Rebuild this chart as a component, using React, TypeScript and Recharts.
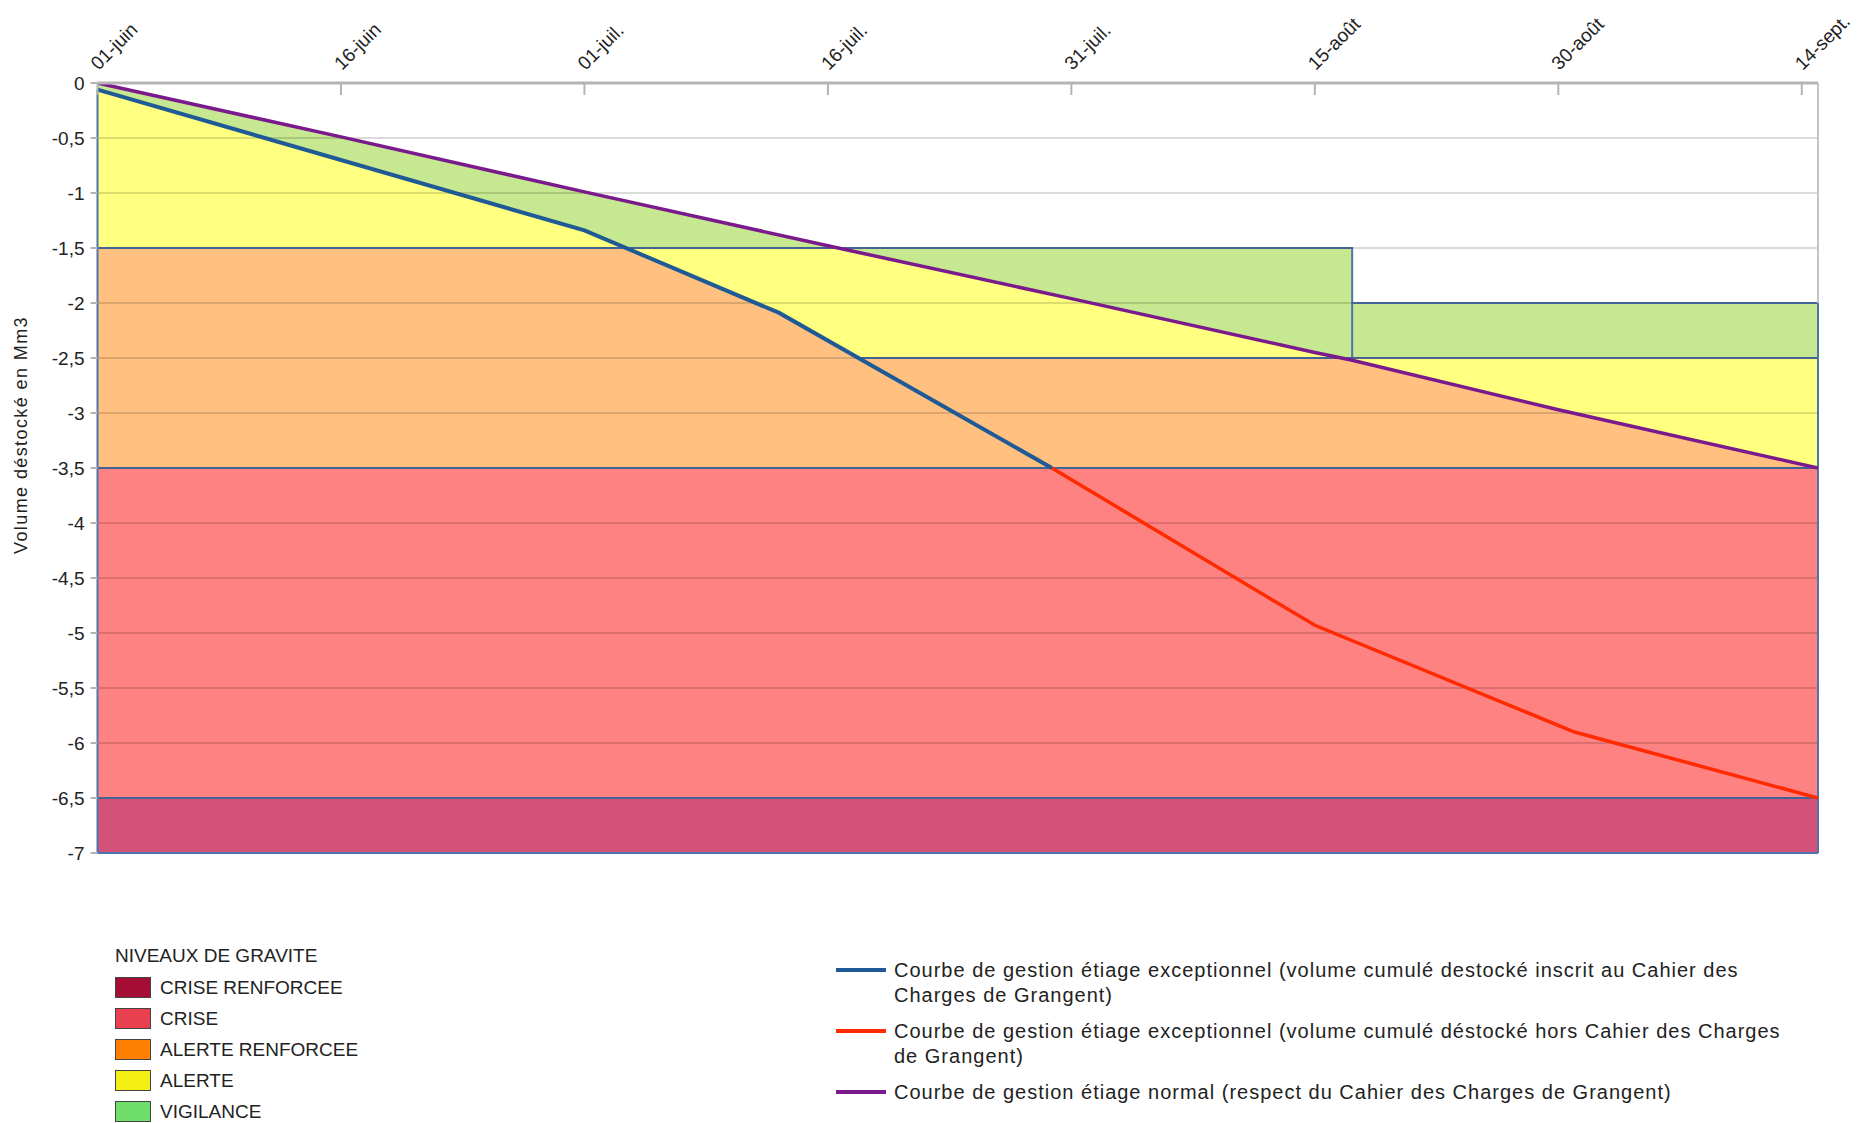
import React from 'react';
import { ComposedChart, Area, Line, XAxis, YAxis, ReferenceLine, Legend } from 'recharts';

// day 0 = 1er juin
const xTicks = [0, 15, 30, 45, 60, 75, 90, 105];
const xTickLabels = ['01-juin', '16-juin', '01-juil.', '16-juil.', '31-juil.', '15-août', '30-août', '14-sept.'];
const yTicks = [0, -0.5, -1, -1.5, -2, -2.5, -3, -3.5, -4, -4.5, -5, -5.5, -6, -6.5, -7];

// courbes
const normalCurve = [
  { day: 0, v: 0 }, { day: 15, v: -0.49 }, { day: 30, v: -0.99 }, { day: 45, v: -1.48 },
  { day: 60, v: -1.96 }, { day: 75, v: -2.45 }, { day: 77.3, v: -2.52 }, { day: 90, v: -2.97 }, { day: 106, v: -3.5 },
];
const exceptionalCurve = [
  { day: 0, v: -0.06 }, { day: 30, v: -1.34 }, { day: 42, v: -2.09 }, { day: 58.8, v: -3.5 },
];
const outsideCurve = [
  { day: 58.8, v: -3.5 }, { day: 75, v: -4.93 }, { day: 91, v: -5.9 }, { day: 106, v: -6.5 },
];

// haut de chaque zone de gravité (remplies jusqu'à -7, de l'arrière vers l'avant)
const vigilanceTop = [
  { day: 0, v: 0 }, { day: 15, v: -0.49 }, { day: 30, v: -0.99 }, { day: 45.6, v: -1.5 },
  { day: 77.3, v: -1.5 }, { day: 77.3, v: -2.5 }, { day: 77.3, v: -2.0 }, { day: 106, v: -2.0 },
];
const alerteTop = [
  { day: 0, v: -0.06 }, { day: 30, v: -1.34 }, { day: 32.6, v: -1.5 }, { day: 45.6, v: -1.5 },
  { day: 60, v: -1.96 }, { day: 75, v: -2.45 }, { day: 77.3, v: -2.52 }, { day: 77.3, v: -2.5 }, { day: 106, v: -2.5 },
];
const alerteRenforceeTop = [
  { day: 0, v: -1.5 }, { day: 32.6, v: -1.5 }, { day: 42, v: -2.09 }, { day: 46.9, v: -2.5 },
  { day: 77.3, v: -2.5 }, { day: 77.3, v: -2.52 }, { day: 90, v: -2.97 }, { day: 106, v: -3.5 },
];
const criseTop = [{ day: 0, v: -3.5 }, { day: 106, v: -3.5 }];
const criseRenforceeTop = [{ day: 0, v: -6.5 }, { day: 106, v: -6.5 }];

const gravityLevels = ['CRISE RENFORCEE', 'CRISE', 'ALERTE RENFORCEE', 'ALERTE', 'VIGILANCE'];
const gravityColors = ['#A50D35', '#E8404F', '#FF8000', '#F5EE14', '#6FDE6A'];

const curveNames = [
  'Courbe de gestion étiage exceptionnel (volume cumulé destocké inscrit au Cahier des Charges de Grangent)',
  'Courbe de gestion étiage exceptionnel (volume cumulé déstocké hors Cahier des Charges de Grangent)',
  'Courbe de gestion étiage normal (respect du Cahier des Charges de Grangent)',
];
const curveColors = ['#1F5A96', '#FF2A00', '#7B1A8C'];

const font = '"Liberation Sans", Arial, sans-serif';
const bandStroke = '#4F74AD';

const TopTick = (props: any) => {
  const { x, y, payload } = props;
  const label = xTickLabels[xTicks.indexOf(payload.value)];
  const tx = x + 1;
  const ty = y - 12;
  return (
    <g>
      <line x1={x} y1={y} x2={x} y2={y + 12} stroke="#b4b4b4" strokeWidth={2} />
      <text x={tx} y={ty} transform={`rotate(-45 ${tx} ${ty})`} textAnchor="start" fontSize={19} fill="#222" fontFamily={font}>
        {label}
      </text>
    </g>
  );
};

const renderLegend = () => (
  <div style={{ position: 'relative', width: 1865, height: 183, fontFamily: font, fontSize: 19, color: '#222' }}>
    <div style={{ position: 'absolute', left: 115, top: 3 }}>
      <div style={{ height: 29, lineHeight: '25px' }}>NIVEAUX DE GRAVITE</div>
      {gravityLevels.map((name, i) => (
        <div key={name} style={{ height: 31, display: 'flex', alignItems: 'center' }}>
          <div style={{ width: 34, height: 19, background: gravityColors[i], border: '1px solid #444' }} />
          <span style={{ marginLeft: 9 }}>{name}</span>
        </div>
      ))}
    </div>
    <div style={{ position: 'absolute', left: 836, top: 17.5, fontSize: 20, letterSpacing: 1.0 }}>
      {curveNames.map((name, i) => (
        <div key={name} style={{ display: 'flex', alignItems: 'flex-start', marginBottom: 11 }}>
          <div style={{ width: 50, height: 4, marginTop: 10.5, background: curveColors[i] }} />
          <div style={{ width: 895, marginLeft: 8, lineHeight: '25px' }}>{name}</div>
        </div>
      ))}
    </div>
  </div>
);

export default function App() {
  return (
    <div style={{ position: 'absolute', left: 0, top: 0, background: '#fff' }}>
      <ComposedChart width={1865} height={1123} margin={{ top: 23, right: 47, bottom: 270, left: 12.5 }}>
        <XAxis
          type="number"
          dataKey="day"
          orientation="top"
          domain={[0, 106]}
          ticks={xTicks}
          interval={0}
          height={60}
          tickSize={0}
          tickMargin={0}
          tickLine={false}
          axisLine={{ stroke: '#b4b4b4', strokeWidth: 3 }}
          tick={<TopTick />}
          allowDataOverflow
        />
        <YAxis
          type="number"
          domain={[-7, 0]}
          ticks={yTicks}
          interval={0}
          width={85}
          tickSize={7}
          tickMargin={6}
          tickLine={{ stroke: '#b4b4b4', strokeWidth: 2 }}
          axisLine={false}
          tick={{ fill: '#222', fontSize: 19, fontFamily: font }}
          tickFormatter={(v: number) => String(v).replace('.', ',')}
          allowDataOverflow
          label={{
            content: (p: any) => {
              const vb = p.viewBox;
              const cx = 21;
              const cy = vb.y + vb.height / 2 - 33;
              return (
                <text x={cx} y={cy} transform={`rotate(-90 ${cx} ${cy})`} textAnchor="middle" dominantBaseline="central" fontSize={18} letterSpacing={1.4} fill="#222" fontFamily={font}>
                  Volume déstocké en Mm3
                </text>
              );
            },
          }}
        />

        <Area data={vigilanceTop} dataKey="v" type="linear" baseValue={-7} fill="#C5E890" fillOpacity={1} stroke={bandStroke} strokeWidth={2} dot={false} activeDot={false} isAnimationActive={false} />
        <Area data={alerteTop} dataKey="v" type="linear" baseValue={-7} fill="#FFFF80" fillOpacity={1} stroke={bandStroke} strokeWidth={2} dot={false} activeDot={false} isAnimationActive={false} />
        <Area data={alerteRenforceeTop} dataKey="v" type="linear" baseValue={-7} fill="#FFC080" fillOpacity={1} stroke={bandStroke} strokeWidth={2} dot={false} activeDot={false} isAnimationActive={false} />
        <Area data={criseTop} dataKey="v" type="linear" baseValue={-7} fill="#FF8282" fillOpacity={1} stroke={bandStroke} strokeWidth={2} dot={false} activeDot={false} isAnimationActive={false} />
        <Area data={criseRenforceeTop} dataKey="v" type="linear" baseValue={-7} fill="#D4517A" fillOpacity={1} stroke={bandStroke} strokeWidth={2} dot={false} activeDot={false} isAnimationActive={false} />

        {yTicks.slice(1, -1).map((t) => (
          <ReferenceLine key={t} y={t} stroke="rgba(0,0,0,0.14)" strokeWidth={2} />
        ))}
        <ReferenceLine x={106} stroke="#c4c4c4" strokeWidth={2} />
        <ReferenceLine segment={[{ x: 106, y: -2 }, { x: 106, y: -7 }]} stroke={bandStroke} strokeWidth={2} />
        <ReferenceLine segment={[{ x: 0, y: -0.06 }, { x: 0, y: -7 }]} stroke={bandStroke} strokeWidth={2} />
        <ReferenceLine y={-7} stroke={bandStroke} strokeWidth={2} />

        <Line data={outsideCurve} dataKey="v" type="linear" stroke={curveColors[1]} strokeWidth={3.5} dot={false} activeDot={false} isAnimationActive={false} />
        <Line data={exceptionalCurve} dataKey="v" type="linear" stroke={curveColors[0]} strokeWidth={4} dot={false} activeDot={false} isAnimationActive={false} />
        <Line data={normalCurve} dataKey="v" type="linear" stroke={curveColors[2]} strokeWidth={3.5} dot={false} activeDot={false} isAnimationActive={false} />

        <Legend
          layout="vertical"
          align="center"
          verticalAlign="middle"
          content={renderLegend}
          wrapperStyle={{ top: 940, left: 0, width: 1865, height: 183 }}
        />
      </ComposedChart>
    </div>
  );
}
